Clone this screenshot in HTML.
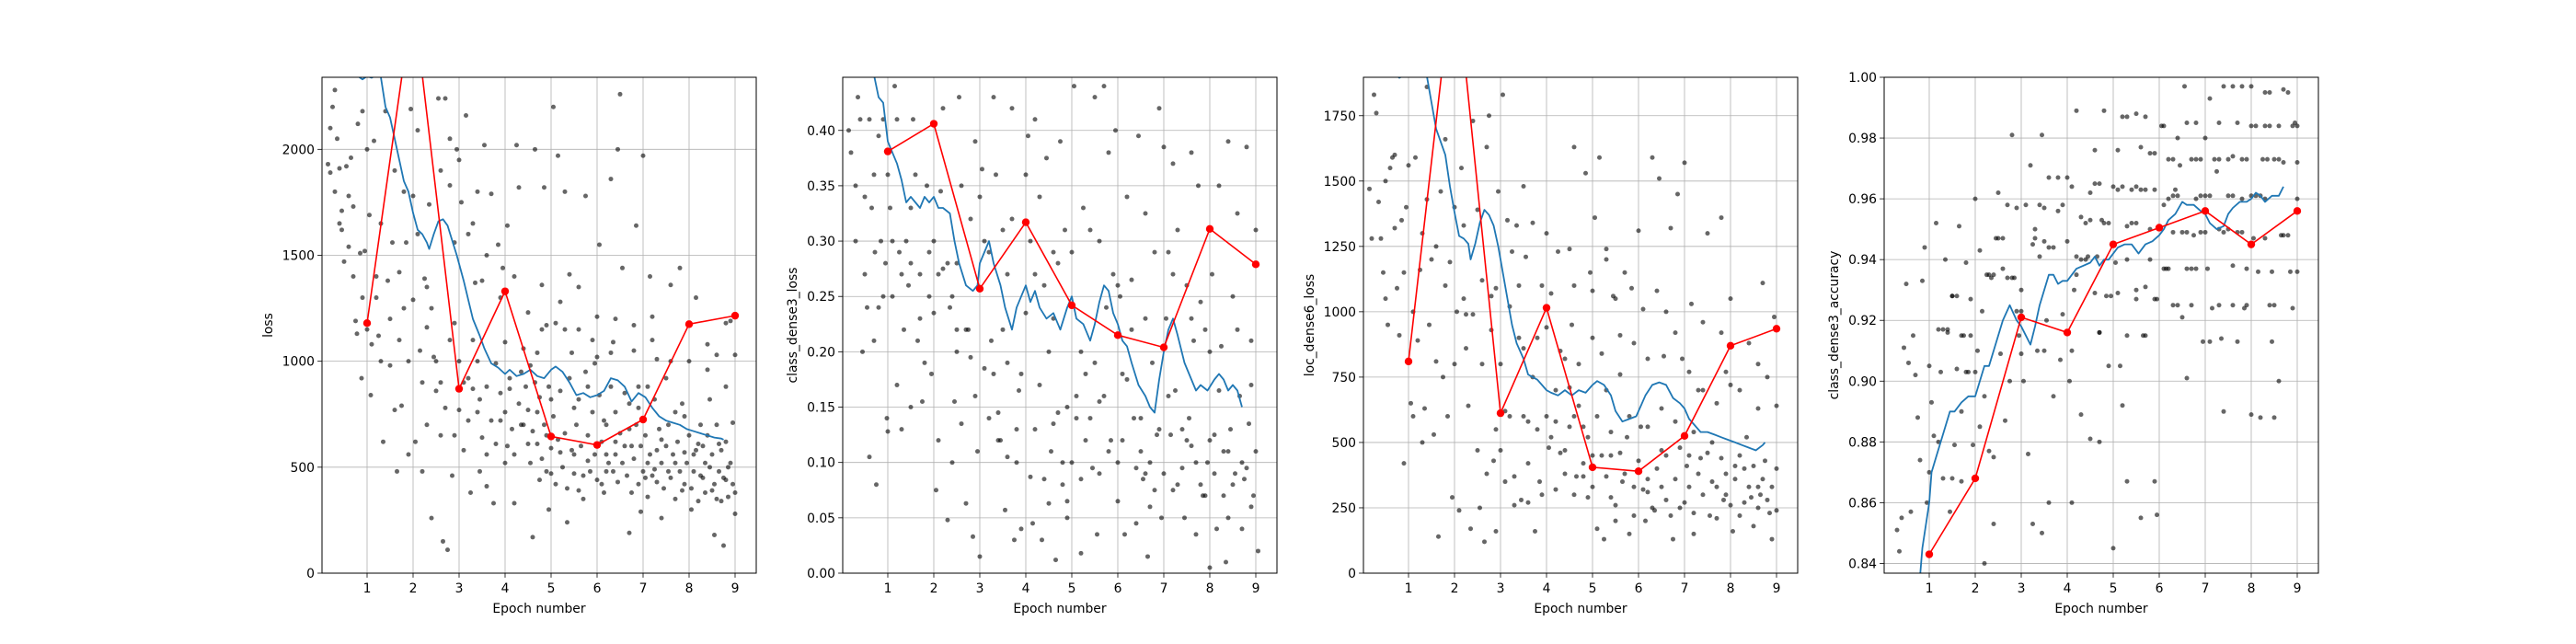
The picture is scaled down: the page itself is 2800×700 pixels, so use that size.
<!DOCTYPE html>
<html><head><meta charset="utf-8">
<style>
html,body{margin:0;padding:0;background:#fff;}
svg{display:block;font-family:"DejaVu Sans","Liberation Sans",sans-serif;}
</style></head>
<body>
<svg id="fig" width="2800" height="700" viewBox="0 0 2800 700" xmlns="http://www.w3.org/2000/svg"></svg>
<script>
// ---------- data ----------
const epochs = [1,2,3,4,5,6,7,8,9];
const xTicks = [1,2,3,4,5,6,7,8,9];

const lossRed = [1180,2720,870,1330,645,605,725,1175,1215];
const classLossRed = [0.381,0.406,0.257,0.317,0.242,0.215,0.204,0.311,0.279];
const locLossRed = [810,2340,612,1015,405,390,525,870,935];
const accRed = [0.843,0.868,0.921,0.916,0.945,0.9505,0.956,0.945,0.956];

const lossBlue = "0.7,2400 0.8,2345 0.9,2330 1.0,2345 1.1,2338 1.2,2350 1.3,2340 1.4,2200 1.5,2150 1.6,2050 1.7,1950 1.8,1850 1.9,1800 2.0,1700 2.1,1620 2.2,1600 2.3,1560 2.35,1530 2.45,1600 2.55,1660 2.65,1670 2.75,1640 2.85,1570 2.95,1500 3.1,1380 3.2,1290 3.3,1200 3.45,1120 3.55,1060 3.7,990 3.85,970 4.0,940 4.1,960 4.25,930 4.4,940 4.55,960 4.7,930 4.85,920 5.0,960 5.1,975 5.25,950 5.4,900 5.55,840 5.7,850 5.85,830 6.0,840 6.15,860 6.3,920 6.45,910 6.6,880 6.75,810 6.9,850 7.05,830 7.2,780 7.35,740 7.5,720 7.65,710 7.8,700 7.95,680 8.1,670 8.25,660 8.4,650 8.55,640 8.7,635 8.75,630";
const classLossBlue = "0.7,0.45 0.8,0.43 0.9,0.425 1.0,0.39 1.1,0.38 1.2,0.37 1.3,0.355 1.4,0.335 1.5,0.34 1.6,0.335 1.7,0.33 1.8,0.34 1.9,0.335 2.0,0.34 2.1,0.33 2.2,0.33 2.35,0.325 2.45,0.30 2.55,0.28 2.7,0.26 2.85,0.255 2.95,0.26 3.0,0.28 3.1,0.29 3.2,0.30 3.3,0.28 3.45,0.26 3.55,0.24 3.7,0.22 3.8,0.24 3.9,0.25 4.0,0.26 4.1,0.245 4.2,0.255 4.3,0.24 4.45,0.23 4.6,0.235 4.75,0.22 4.9,0.24 5.0,0.25 5.1,0.23 5.25,0.225 5.4,0.21 5.5,0.225 5.6,0.245 5.7,0.26 5.8,0.255 5.9,0.235 6.0,0.225 6.1,0.21 6.2,0.205 6.3,0.19 6.45,0.17 6.6,0.16 6.7,0.15 6.8,0.145 6.9,0.175 7.0,0.20 7.1,0.22 7.2,0.23 7.3,0.215 7.45,0.19 7.6,0.175 7.7,0.165 7.8,0.17 7.95,0.165 8.1,0.175 8.2,0.18 8.3,0.175 8.4,0.165 8.5,0.17 8.6,0.165 8.7,0.15";
const locLossBlue = "0.7,1910 0.8,1895 0.9,1905 1.0,1910 1.2,1905 1.4,1900 1.5,1800 1.6,1700 1.7,1650 1.8,1600 1.9,1480 2.0,1380 2.1,1290 2.2,1280 2.3,1260 2.35,1200 2.45,1260 2.55,1340 2.65,1390 2.75,1370 2.85,1330 2.95,1250 3.05,1150 3.15,1050 3.25,950 3.35,880 3.5,820 3.6,760 3.8,740 3.9,720 4.0,700 4.1,690 4.25,680 4.4,700 4.55,680 4.7,700 4.85,690 5.0,720 5.1,735 5.25,720 5.4,680 5.5,620 5.65,580 5.8,590 5.95,600 6.05,640 6.15,680 6.3,720 6.45,730 6.6,720 6.75,670 6.9,650 7.0,630 7.1,590 7.2,570 7.35,540 7.5,540 7.65,530 7.8,520 7.95,510 8.1,500 8.25,490 8.4,480 8.55,470 8.7,490 8.75,500";
const accBlue = "0.78,0.832 0.85,0.845 0.9,0.850 1.0,0.86 1.05,0.87 1.15,0.875 1.25,0.88 1.35,0.885 1.45,0.89 1.55,0.89 1.7,0.893 1.85,0.895 2.0,0.895 2.1,0.90 2.2,0.905 2.3,0.905 2.4,0.91 2.5,0.915 2.6,0.92 2.75,0.925 2.9,0.92 3.0,0.918 3.1,0.915 3.2,0.912 3.3,0.918 3.4,0.925 3.5,0.93 3.6,0.935 3.7,0.935 3.8,0.932 3.9,0.933 4.0,0.933 4.1,0.935 4.2,0.937 4.35,0.938 4.5,0.939 4.6,0.941 4.7,0.938 4.8,0.94 4.9,0.94 5.0,0.942 5.1,0.944 5.25,0.945 5.4,0.945 5.55,0.942 5.7,0.945 5.85,0.946 6.0,0.948 6.1,0.95 6.2,0.953 6.35,0.955 6.5,0.959 6.6,0.958 6.75,0.958 6.9,0.956 7.0,0.955 7.1,0.952 7.25,0.95 7.4,0.951 7.5,0.955 7.6,0.957 7.75,0.959 7.9,0.959 8.0,0.96 8.1,0.962 8.2,0.961 8.3,0.959 8.45,0.961 8.6,0.961 8.7,0.964";

const lossDots = "0.15,1930 0.2,1890 0.25,2200 0.3,2280 0.35,2050 0.4,1910 0.45,1710 0.45,1620 0.5,1470 0.55,1920 0.6,1780 0.65,1960 0.7,1730 0.75,1190 0.78,1130 0.8,2120 0.85,1510 0.88,920 0.9,2180 0.95,1520 1.0,2000 1.05,1690 1.08,840 1.1,1080 1.15,2040 1.2,1400 1.25,1120 1.3,1000 1.35,620 1.4,2180 1.45,1380 1.5,980 1.55,1560 1.6,770 1.65,480 1.7,1420 1.75,790 1.8,1800 1.85,1560 1.9,560 1.95,2190 2.0,1780 2.0,1290 2.05,620 2.1,2090 2.15,1050 2.2,480 2.25,1390 2.3,1160 2.35,1740 2.4,260 2.45,1020 2.5,860 2.55,2240 2.6,650 2.65,150 2.7,2240 2.75,110 2.8,1830 2.85,460 2.9,1560 2.95,2000 3.0,770 3.05,1750 3.1,580 3.15,2160 3.2,920 3.25,380 3.3,1650 3.35,1370 3.4,760 3.45,480 3.5,1380 3.55,2020 3.6,410 3.7,1790 3.75,330 3.8,990 3.85,1550 3.9,720 3.95,1440 4.0,520 4.05,1640 4.1,870 4.2,330 4.25,2020 4.3,1820 4.35,700 4.4,1060 4.5,610 4.55,980 4.6,170 4.65,2000 4.7,760 4.75,440 4.8,1360 4.85,1820 4.9,1170 4.95,300 5.0,820 5.05,2200 5.1,1180 5.15,1970 5.2,570 5.3,1800 5.35,240 5.4,1410 5.45,1040 5.5,780 5.6,1350 5.7,460 5.75,1780 5.8,530 5.9,1100 5.95,990 6.0,1210 6.05,1550 6.1,420 6.15,720 6.2,480 6.3,1860 6.35,1090 6.4,620 6.45,2000 6.5,2260 6.55,1440 6.6,850 6.7,190 6.75,600 6.8,1170 6.85,1640 6.9,780 6.95,290 7.0,1970 7.05,450 7.1,880 7.15,1400 7.2,1210 7.3,580 7.4,260 7.5,920 7.55,480 7.6,1360 7.7,520 7.8,1440 7.85,390 7.9,740 8.0,1000 8.05,300 8.1,560 8.15,1300 8.25,700 8.3,450 8.4,960 8.45,820 8.5,390 8.55,180 8.6,1030 8.65,610 8.7,340 8.75,130 8.8,880 8.85,500 8.9,1190 8.95,710 9.0,380 9.0,1030 0.6,1540 1.3,1650 2.3,1350 2.9,1180 3.6,880 4.4,700 5.3,1150 5.8,880 6.3,1040 6.9,880 7.3,1010 7.7,760 8.2,610 8.6,700 4.9,650 5.5,560 6.2,560 6.7,680 7.1,520 7.4,630 7.9,570 8.35,520 8.8,440 3.3,870 4.0,1090 4.7,1040 5.0,470 5.6,390 6.4,760 7.25,490";
const lossDotsExtra = "3.5,640 3.6,560 3.7,720 3.8,610 3.9,850 4.0,760 4.05,600 4.1,920 4.15,680 4.2,560 4.3,800 4.35,950 4.45,880 4.5,770 4.55,520 4.6,670 4.65,900 4.7,610 4.75,830 4.8,540 4.85,700 4.9,480 4.95,880 5.0,590 5.05,740 5.1,420 5.15,630 5.2,860 5.25,500 5.3,660 5.35,400 5.4,920 5.45,580 5.5,470 5.55,700 5.6,820 5.65,600 5.7,350 5.75,950 5.8,650 5.85,480 5.9,760 5.95,560 6.0,440 6.05,840 6.1,620 6.15,380 6.2,700 6.25,520 6.3,880 6.35,480 6.4,560 6.45,430 6.5,660 6.55,520 6.6,600 6.65,460 6.7,800 6.75,380 6.8,540 6.85,700 6.9,420 6.95,600 7.0,480 7.05,650 7.1,360 7.15,560 7.2,460 7.25,820 7.3,430 7.35,680 7.4,520 7.45,400 7.5,600 7.55,700 7.6,450 7.65,560 7.7,350 7.75,620 7.8,480 7.85,800 7.9,420 7.95,520 8.0,650 8.05,400 8.1,480 8.15,580 8.2,340 8.25,460 8.3,600 8.35,380 8.4,650 8.45,500 8.5,560 8.55,420 8.6,350 8.65,480 8.7,580 8.75,450 8.8,620 8.85,360 8.9,520 8.95,420 9.0,280 2.6,900 2.7,780 2.8,1100 2.9,650 3.0,1000 3.1,900 3.2,720 3.3,1100 3.4,1000 3.45,820 2.2,900 2.3,700 2.4,1250 2.5,1000 1.9,1000 1.8,1250 1.7,1100 1.5,1200 1.2,1300 1.0,1150 0.9,1300 0.7,1400 0.4,1650 0.3,1800 0.2,2100 1.6,1900 2.1,1600 2.6,1900 2.8,2050 3.0,1950 3.2,1600 3.4,1800 3.6,1500 3.9,1300 4.2,1400 4.5,1230 4.8,1150 5.2,1280 5.6,1150 6.0,1020 6.4,1200 6.8,1050 7.2,1100 7.6,1000 8.0,1170 8.4,1080 8.8,1180";
const classLossDots = "0.15,0.40 0.2,0.38 0.3,0.35 0.35,0.43 0.4,0.41 0.45,0.20 0.5,0.34 0.55,0.24 0.6,0.105 0.65,0.33 0.7,0.36 0.72,0.29 0.75,0.08 0.8,0.24 0.85,0.30 0.9,0.41 0.95,0.28 0.98,0.14 1.0,0.128 1.05,0.33 1.1,0.25 1.15,0.44 1.2,0.17 1.25,0.29 1.3,0.13 1.35,0.22 1.4,0.30 1.45,0.26 1.5,0.15 1.55,0.41 1.6,0.36 1.65,0.21 1.7,0.23 1.75,0.155 1.8,0.19 1.85,0.35 1.9,0.29 1.95,0.18 2.0,0.235 2.05,0.075 2.1,0.12 2.15,0.345 2.2,0.42 2.3,0.048 2.35,0.24 2.4,0.10 2.45,0.155 2.5,0.20 2.55,0.43 2.6,0.135 2.7,0.063 2.75,0.22 2.85,0.033 2.9,0.39 2.95,0.11 3.0,0.015 3.05,0.365 3.1,0.185 3.2,0.14 3.25,0.21 3.3,0.43 3.35,0.36 3.45,0.12 3.5,0.31 3.55,0.057 3.6,0.19 3.7,0.42 3.75,0.03 3.8,0.13 3.85,0.165 3.9,0.04 4.0,0.235 4.05,0.395 4.1,0.087 4.15,0.045 4.2,0.41 4.3,0.17 4.35,0.03 4.4,0.26 4.45,0.375 4.5,0.063 4.55,0.11 4.6,0.23 4.65,0.012 4.7,0.145 4.75,0.39 4.8,0.08 4.85,0.31 4.9,0.065 5.0,0.10 5.05,0.44 5.1,0.16 5.2,0.018 5.25,0.33 5.3,0.18 5.4,0.31 5.45,0.095 5.5,0.43 5.55,0.035 5.6,0.155 5.7,0.44 5.75,0.24 5.8,0.38 5.85,0.12 5.95,0.40 6.0,0.065 6.05,0.25 6.1,0.12 6.15,0.035 6.2,0.34 6.3,0.265 6.35,0.14 6.4,0.045 6.45,0.395 6.5,0.11 6.55,0.085 6.6,0.325 6.65,0.015 6.7,0.06 6.75,0.19 6.8,0.29 6.85,0.125 6.9,0.42 6.95,0.05 7.0,0.385 7.05,0.23 7.1,0.29 7.15,0.125 7.2,0.37 7.25,0.165 7.3,0.31 7.4,0.095 7.45,0.05 7.5,0.26 7.55,0.14 7.6,0.38 7.65,0.21 7.7,0.035 7.75,0.35 7.8,0.245 7.85,0.07 7.9,0.22 7.95,0.10 8.0,0.005 8.05,0.27 8.1,0.125 8.15,0.04 8.2,0.35 8.25,0.205 8.3,0.07 8.35,0.01 8.4,0.39 8.45,0.13 8.5,0.25 8.55,0.09 8.6,0.325 8.65,0.16 8.7,0.04 8.75,0.085 8.8,0.385 8.85,0.135 8.9,0.21 8.95,0.07 9.0,0.31 9.0,0.11 9.05,0.02 1.5,0.28 2.5,0.28 3.2,0.29 4.2,0.27 5.2,0.20 6.2,0.175 7.2,0.075 8.2,0.165 3.6,0.105 4.6,0.135 5.6,0.09 6.6,0.09 7.6,0.115 8.4,0.11 2.2,0.275 2.8,0.195 3.4,0.145 4.9,0.05";
const classLossDotsExtra = "0.3,0.30 0.5,0.27 0.7,0.21 0.9,0.25 1.1,0.30 1.3,0.27 1.5,0.33 1.7,0.27 1.9,0.25 2.1,0.27 2.3,0.28 2.5,0.22 2.7,0.22 2.9,0.16 3.1,0.30 3.3,0.18 3.5,0.22 3.7,0.32 3.9,0.18 4.1,0.30 4.3,0.34 4.5,0.20 4.7,0.28 4.9,0.15 5.1,0.14 5.3,0.12 5.5,0.19 5.7,0.16 5.9,0.27 6.1,0.18 6.3,0.22 6.5,0.14 6.7,0.10 6.9,0.13 7.1,0.16 7.3,0.08 7.5,0.12 7.7,0.10 7.9,0.07 8.1,0.09 8.3,0.11 8.5,0.08 8.7,0.10 8.9,0.06 3.4,0.12 3.8,0.10 4.2,0.13 4.4,0.085 4.8,0.10 5.2,0.085 5.4,0.14 5.8,0.11 6.0,0.10 6.4,0.095 6.8,0.075 7.0,0.09 7.4,0.13 7.8,0.08 8.0,0.12 8.4,0.05 8.8,0.095 2.0,0.30 2.4,0.25 2.6,0.35 2.8,0.32 3.0,0.34 3.6,0.27 4.0,0.36 4.6,0.29 5.0,0.29 5.6,0.30 6.0,0.26 6.6,0.23 7.2,0.27 7.6,0.23 8.0,0.20 8.6,0.22 8.9,0.17 1.0,0.36 1.2,0.41 0.6,0.41 0.8,0.395";
const locLossDots = "0.15,1470 0.2,1280 0.25,1830 0.3,1760 0.35,1420 0.4,1280 0.45,1150 0.5,1050 0.55,950 0.6,1550 0.65,1590 0.7,1320 0.75,1090 0.8,910 0.85,1350 0.9,420 0.95,1400 1.0,1560 1.05,650 1.1,600 1.15,1590 1.2,890 1.25,1160 1.3,500 1.35,630 1.4,1860 1.45,950 1.5,1200 1.55,530 1.6,810 1.65,140 1.7,1460 1.75,750 1.8,1660 1.85,600 1.9,1190 1.95,290 2.0,800 2.05,1000 2.1,240 2.15,1550 2.2,1330 2.25,860 2.3,640 2.35,170 2.4,1730 2.5,1390 2.55,250 2.6,800 2.65,120 2.7,1630 2.75,1750 2.8,930 2.85,430 2.9,160 2.95,1460 3.0,470 3.05,1830 3.1,350 3.15,1350 3.2,600 3.25,1230 3.3,370 3.35,1330 3.4,1100 3.45,280 3.5,860 3.55,1210 3.6,580 3.7,1340 3.75,160 3.8,900 3.85,350 3.9,1100 4.0,940 4.05,480 4.1,1070 4.2,580 4.25,1230 4.3,850 4.4,470 4.5,710 4.55,950 4.6,1630 4.65,370 4.7,800 4.8,560 4.85,1530 4.9,290 4.95,1150 5.0,450 5.05,1360 5.1,170 5.15,1590 5.2,840 5.25,130 5.3,1240 5.4,450 5.45,1060 5.5,200 5.6,910 5.65,350 5.7,1150 5.75,520 5.8,150 5.85,1090 5.9,330 6.0,1310 6.05,560 6.1,1010 6.15,200 6.2,360 6.3,1590 6.35,240 6.4,1080 6.45,1510 6.5,470 6.55,830 6.6,280 6.7,1320 6.75,130 6.8,580 6.85,1450 6.9,250 6.95,820 7.0,1570 7.05,410 7.1,770 7.15,1030 7.2,150 7.3,700 7.35,440 7.4,960 7.5,1300 7.55,220 7.6,500 7.7,650 7.8,1360 7.85,280 7.9,770 8.0,1050 8.05,160 8.1,410 8.2,700 8.3,270 8.35,520 8.4,880 8.5,180 8.6,630 8.65,300 8.7,1110 8.75,430 8.8,750 8.85,230 8.9,130 8.95,980 9.0,400 9.0,640 1.4,1430 2.25,990 3.7,750 4.6,600 5.3,700 5.9,880 6.5,630 7.2,540 7.7,330 8.2,450 8.6,330 4.2,320 4.8,370 5.4,290 6.2,310 7.1,330 7.9,380 8.45,290 3.6,270 3.1,620 2.9,1090 5.0,1080";
const locLossDotsExtra = "4.0,600 4.1,520 4.2,700 4.3,460 4.4,380 4.5,560 4.6,300 4.7,640 4.8,420 4.9,520 5.0,330 5.1,600 5.2,450 5.3,370 5.4,540 5.5,260 5.6,460 5.7,380 5.8,600 5.9,220 6.0,430 6.1,320 6.2,560 6.3,250 6.4,400 6.5,330 6.6,450 6.7,220 6.8,360 6.9,480 7.0,270 7.1,450 7.2,230 7.3,380 7.4,300 7.5,460 7.6,350 7.7,210 7.8,440 7.9,300 8.0,260 8.1,360 8.2,220 8.3,400 8.4,330 8.5,410 8.6,250 8.7,360 8.8,280 8.9,330 9.0,240 3.2,1020 3.4,900 3.5,600 3.6,420 3.8,550 3.9,300 3.0,800 2.8,1060 2.6,1120 2.4,990 2.2,1050 2.0,1400 1.8,1100 1.6,1250 1.3,1300 1.1,1000 0.9,1150 0.7,1600 0.5,1500 2.5,470 2.7,380 2.9,550 3.3,260 4.4,820 5.0,900 5.6,760 6.2,820 6.8,920 7.4,700 8.0,720 8.6,800 4.6,1100 5.5,1050 6.6,1000 7.8,920 3.5,1480 4.0,1300 4.5,1240 5.3,1200";
const accDots = "0.3,0.851 0.35,0.844 0.4,0.855 0.45,0.911 0.5,0.932 0.55,0.906 0.6,0.857 0.65,0.915 0.7,0.902 0.75,0.888 0.8,0.874 0.85,0.933 0.9,0.944 0.95,0.86 1.0,0.905 1.05,0.893 1.1,0.882 1.15,0.952 1.2,0.917 1.25,0.903 1.3,0.868 1.35,0.940 1.4,0.916 1.45,0.857 1.5,0.928 1.55,0.879 1.6,0.904 1.65,0.951 1.7,0.867 1.75,0.915 1.8,0.939 1.85,0.903 1.9,0.927 1.95,0.879 2.0,0.96 2.05,0.91 2.1,0.943 2.15,0.923 2.2,0.895 2.25,0.935 2.3,0.877 2.35,0.934 2.4,0.853 2.45,0.947 2.5,0.962 2.55,0.909 2.6,0.937 2.65,0.887 2.7,0.958 2.75,0.9 2.8,0.981 2.85,0.934 2.9,0.957 2.95,0.915 3.0,0.93 3.05,0.9 3.1,0.958 3.15,0.876 3.2,0.971 3.25,0.945 3.3,0.95 3.35,0.91 3.4,0.941 3.45,0.981 3.5,0.957 3.55,0.92 3.6,0.967 3.7,0.944 3.8,0.967 3.85,0.907 3.9,0.922 4.0,0.946 4.05,0.9 4.1,0.964 4.15,0.93 4.2,0.989 4.3,0.954 4.4,0.94 4.5,0.962 4.6,0.976 4.7,0.916 4.75,0.953 4.8,0.989 4.85,0.928 4.9,0.905 5.0,0.964 5.05,0.939 5.1,0.976 5.15,0.905 5.2,0.987 5.3,0.951 5.4,0.963 5.5,0.93 5.6,0.977 5.65,0.915 5.7,0.987 5.8,0.94 5.9,0.963 5.95,0.927 6.0,0.951 6.05,0.984 6.1,0.958 6.15,0.937 6.2,0.973 6.3,0.925 6.35,0.963 6.4,0.98 6.5,0.921 6.55,0.997 6.6,0.937 6.7,0.973 6.75,0.948 6.8,0.985 6.9,0.961 6.95,0.913 7.0,0.98 7.05,0.937 7.1,0.993 7.15,0.924 7.25,0.969 7.3,0.95 7.35,0.914 7.4,0.997 7.5,0.973 7.6,0.938 7.7,0.985 7.8,0.96 7.85,0.924 7.9,0.973 8.0,0.997 8.05,0.947 8.1,0.984 8.15,0.936 8.25,0.973 8.3,0.96 8.4,0.995 8.45,0.936 8.5,0.925 8.6,0.984 8.65,0.948 8.7,0.972 8.8,0.995 8.85,0.936 8.9,0.924 8.95,0.985 9.0,0.96 9.0,0.936 9.0,0.972 5.0,0.845 5.2,0.892 5.3,0.867 5.6,0.855 5.9,0.867 5.95,0.856 6.6,0.901 8.0,0.889 8.2,0.888 8.5,0.888 7.4,0.89 4.5,0.881 4.7,0.88 3.7,0.895 3.45,0.85 3.6,0.86 4.3,0.889 4.1,0.86 3.25,0.853 2.2,0.84 8.6,0.9 8.45,0.913 7.7,0.913 7.1,0.913 8.3,0.947 7.5,0.95 6.8,0.96 6.2,0.96 5.5,0.964 6.45,0.971 6.9,0.973 7.8,0.973 8.35,0.973 6.3,0.949 7.0,0.949 4.45,0.941 4.65,0.941 5.3,0.94 5.8,0.95 4.95,0.928 5.5,0.927 5.9,0.927";
const accDotsExtra = "1.3,0.917 1.4,0.917 1.5,0.928 1.6,0.928 1.7,0.915 1.8,0.903 1.9,0.915 2.0,0.903 2.3,0.935 2.4,0.935 2.5,0.947 2.6,0.947 2.7,0.934 2.8,0.934 2.9,0.923 3.0,0.923 3.3,0.947 3.4,0.958 3.5,0.946 3.6,0.944 3.8,0.956 3.9,0.958 4.0,0.967 4.2,0.941 4.3,0.94 4.4,0.952 4.5,0.953 4.6,0.965 4.7,0.965 4.8,0.952 4.9,0.952 5.1,0.963 5.2,0.964 5.4,0.952 5.5,0.952 5.6,0.963 5.7,0.963 5.8,0.975 5.9,0.975 6.1,0.937 6.2,0.937 6.3,0.961 6.4,0.961 6.5,0.949 6.6,0.949 6.7,0.937 6.8,0.937 6.9,0.949 7.0,0.961 7.1,0.961 7.2,0.973 7.3,0.973 7.4,0.949 7.5,0.961 7.6,0.961 7.7,0.949 7.8,0.949 7.9,0.937 8.0,0.961 8.1,0.961 8.2,0.961 8.3,0.984 8.4,0.984 8.5,0.973 8.6,0.973 8.7,0.948 8.8,0.948 8.9,0.984 9.0,0.984 5.3,0.987 5.5,0.988 6.1,0.984 6.3,0.973 6.6,0.985 6.8,0.973 7.3,0.985 7.6,0.974 8.0,0.984 8.3,0.995 8.7,0.996 7.6,0.997 7.8,0.997 4.2,0.935 4.6,0.929 5.1,0.929 5.7,0.931 6.4,0.925 6.7,0.925 7.3,0.925 7.6,0.925 7.9,0.925 8.4,0.925 3.0,0.909 3.5,0.91 4.1,0.91 4.7,0.916 5.3,0.915 5.7,0.915 1.0,0.87 1.2,0.88 1.5,0.868 1.7,0.89 2.1,0.885 2.4,0.875";

const lossTicks = [0,500,1000,1500,2000];
const lossTickLabels = ["0","500","1000","1500","2000"];
const classLossTicks = [0,0.05,0.10,0.15,0.20,0.25,0.30,0.35,0.40];
const classLossTickLabels = ["0.00","0.05","0.10","0.15","0.20","0.25","0.30","0.35","0.40"];
const locLossTicks = [0,250,500,750,1000,1250,1500,1750];
const locLossTickLabels = ["0","250","500","750","1000","1250","1500","1750"];
const accTicks = [0.84,0.86,0.88,0.90,0.92,0.94,0.96,0.98,1.00];
const accTickLabels = ["0.84","0.86","0.88","0.90","0.92","0.94","0.96","0.98","1.00"];

const panelNames = ["loss","class_dense3_loss","loc_dense6_loss","class_dense3_accuracy"];

// ---------- drawing ----------
const NS = "http://www.w3.org/2000/svg";
const svg = document.getElementById("fig");
function mk(tag, attrs, parent){
  const e = document.createElementNS(NS, tag);
  for (const k in attrs) e.setAttribute(k, attrs[k]);
  (parent||svg).appendChild(e);
  return e;
}
function parsePairs(s){ return s.trim().split(/\s+/).map(p=>p.split(",").map(Number)); }

const panels = [
  {left:350, ylim:[0,2340], ticks:lossTicks, labels:lossTickLabels, red:lossRed, blue:lossBlue, dots:lossDots+" "+lossDotsExtra, labX:296},
  {left:916, ylim:[0,0.448], ticks:classLossTicks, labels:classLossTickLabels, red:classLossRed, blue:classLossBlue, dots:classLossDots+" "+classLossDotsExtra, labX:866},
  {left:1482, ylim:[0,1897], ticks:locLossTicks, labels:locLossTickLabels, red:locLossRed, blue:locLossBlue, dots:locLossDots+" "+locLossDotsExtra, labX:1428},
  {left:2048, ylim:[0.8368,1.0], ticks:accTicks, labels:accTickLabels, red:accRed, blue:accBlue, dots:accDots+" "+accDotsExtra, labX:1998}
];
const W = 472, TOP = 84, BOT = 623, XMIN = 0.02, XMAX = 9.46;

panels.forEach((p, i) => {
  const g = mk("g", {});
  
  
  const sx = v => p.left + (v - XMIN) / (XMAX - XMIN) * W;
  const sy = v => BOT - (v - p.ylim[0]) / (p.ylim[1] - p.ylim[0]) * (BOT - TOP);
  const clipId = "clip" + i;
  const cp = mk("clipPath", {id: clipId}, g);
  mk("rect", {x:p.left, y:TOP, width:W, height:BOT-TOP}, cp);

  xTicks.forEach(t => {
    const l = mk("line", {x1:sx(t), x2:sx(t), y1:TOP, y2:BOT, stroke:"#b0b0b0", "stroke-width":0.8}, g);
    
    
  });
  p.ticks.forEach(t => {
    const l = mk("line", {x1:p.left, x2:p.left+W, y1:sy(t), y2:sy(t), stroke:"#b0b0b0", "stroke-width":0.8}, g);
    
    
  });

  const plot = mk("g", {"clip-path":"url(#"+clipId+")"}, g);
  const dg = mk("g", {fill:"#000", "fill-opacity":0.6}, plot);
  
  
  parsePairs(p.dots).forEach(([x,y]) => {
    const c = mk("circle", {cx:sx(x), cy:sy(y), r:2.5}, dg);
    
    
  });
  const bp = parsePairs(p.blue).map(([x,y]) => sx(x).toFixed(1)+","+sy(y).toFixed(1)).join(" ");
  const bl = mk("polyline", {points:bp, fill:"none", stroke:"#1f77b4", "stroke-width":1.8, "stroke-linejoin":"round"}, plot);
  
  
  const rp = epochs.map((e,k) => sx(e).toFixed(1)+","+sy(p.red[k]).toFixed(1)).join(" ");
  const rl = mk("polyline", {points:rp, fill:"none", stroke:"#ff0000", "stroke-width":1.6}, plot);
  
  
  epochs.forEach((e,k) => {
    const c = mk("circle", {cx:sx(e), cy:sy(p.red[k]), r:4.2, fill:"#ff0000"}, plot);
    
    
  });

  const fr = mk("rect", {x:p.left, y:TOP, width:W, height:BOT-TOP, fill:"none", stroke:"#000", "stroke-width":1}, g);
  
  

  xTicks.forEach(t => {
    mk("line", {x1:sx(t), x2:sx(t), y1:BOT, y2:BOT+4.9, stroke:"#000", "stroke-width":0.8}, g);
    const tx = mk("text", {x:sx(t), y:BOT+21, "text-anchor":"middle", "font-size":"13.9px", fill:"#000"}, g);
    tx.textContent = t;
    
    
  });
  p.ticks.forEach((t,k) => {
    mk("line", {x1:p.left-4.9, x2:p.left, y1:sy(t), y2:sy(t), stroke:"#000", "stroke-width":0.8}, g);
    const tx = mk("text", {x:p.left-8, y:sy(t)+5, "text-anchor":"end", "font-size":"13.9px", fill:"#000"}, g);
    tx.textContent = p.labels[k];
    
    
  });
  const xl = mk("text", {x:p.left+W/2, y:BOT+43, "text-anchor":"middle", "font-size":"13.9px", fill:"#000"}, g);
  xl.textContent = "Epoch number";
  
  
  const cy = (TOP+BOT)/2;
  const yl = mk("text", {x:p.labX, y:cy, "text-anchor":"middle", "font-size":"13.9px", fill:"#000", transform:"rotate(-90 "+p.labX+" "+cy+")"}, g);
  yl.textContent = panelNames[i];
  
  
});
</script>
</body></html>
